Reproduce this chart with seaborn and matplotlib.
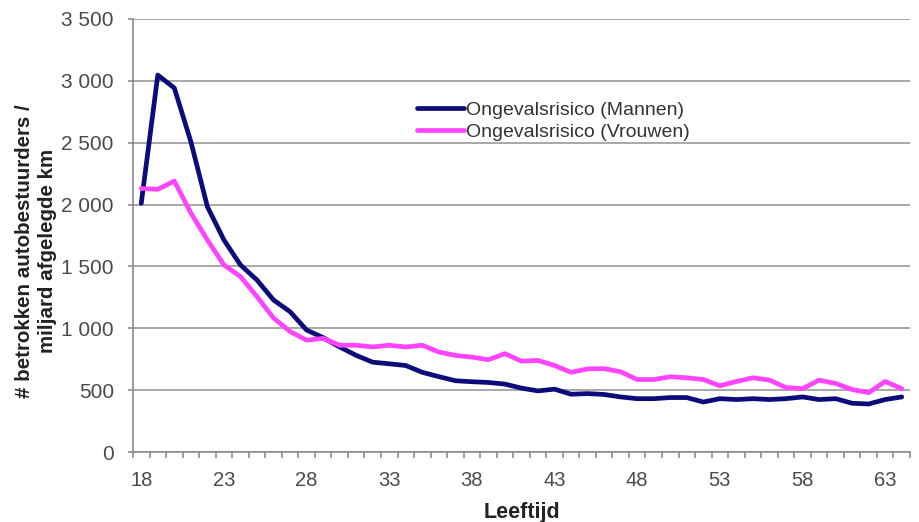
import matplotlib
matplotlib.use("Agg")
import matplotlib.pyplot as plt
import matplotlib.ticker as mticker
import seaborn as sns
import pandas as pd
import numpy as np

ages = list(range(18, 65))
mannen = [2010, 3047, 2942, 2508, 1983, 1714, 1512, 1390, 1229, 1134,
          986, 925, 849, 781, 726, 713, 699, 644, 609, 576,
          568, 562, 549, 516, 494, 508, 467, 472, 465, 445,
          431, 431, 440, 440, 404, 431, 424, 431, 424, 431,
          445, 424, 431, 394, 388, 424, 445]
vrouwen = [2130, 2123, 2190, 1932, 1714, 1512, 1418, 1256, 1083, 974,
           904, 918, 863, 863, 849, 863, 849, 863, 808, 781,
           767, 746, 795, 734, 740, 699, 644, 672, 674, 648,
           586, 586, 608, 600, 586, 535, 570, 600, 581, 521,
           512, 581, 554, 505, 480, 570, 512]
series_names = ["Ongevalsrisico (Mannen)", "Ongevalsrisico (Vrouwen)"]
colors = ["#0b0b7a", "#ff44ff"]
y_ticks = [0, 500, 1000, 1500, 2000, 2500, 3000, 3500]
x_label_ticks = list(range(18, 64, 5))

df = pd.DataFrame({
    "Leeftijd": ages * 2,
    "waarde": mannen + vrouwen,
    "serie": [series_names[0]] * len(ages) + [series_names[1]] * len(ages),
})

sns.set_theme(style="white")
plt.rcParams["font.family"] = ["Liberation Sans", "DejaVu Sans"]

fig = plt.figure(figsize=(9.2, 5.22), dpi=100)
ax = fig.add_axes([133 / 920, 1 - 452 / 522, (910 - 133) / 920, (452 - 19) / 522])

sns.lineplot(data=df, x="Leeftijd", y="waarde", hue="serie",
             palette=colors, linewidth=3.4, ax=ax, legend=True)

ax.set_xlim(17.5, 64.5)
ax.set_ylim(0, 3500)
ax.set_yticks(y_ticks)
ax.yaxis.set_major_formatter(mticker.FuncFormatter(lambda v, p: f"{int(v):,}".replace(",", " ")))
ax.set_xticks(x_label_ticks)
ax.set_xticks(np.arange(17.5, 65, 1.0), minor=True)

ax.grid(axis="y", color="#9a9a9a", linewidth=1.2)
ax.set_axisbelow(True)
for s in ["top", "right"]:
    ax.spines[s].set_visible(False)
for s in ["left", "bottom"]:
    ax.spines[s].set_visible(True)
    ax.spines[s].set_color("#8c8c8c")
    ax.spines[s].set_linewidth(1.2)

ax.tick_params(axis="y", which="major", direction="out", length=3.8, width=1.2,
               color="#8c8c8c", labelsize=15, labelcolor="#4a4a4a", pad=10, left=True)
ax.tick_params(axis="x", which="major", length=0, labelsize=14.5,
               labelcolor="#4a4a4a", pad=14, bottom=True)
ax.tick_params(axis="x", which="minor", direction="out", length=4.3, width=1.2,
               color="#8c8c8c", bottom=True)

ax.set_xlabel("Leeftijd", fontsize=15.5, fontweight="bold", color="#222222")
ax.xaxis.set_label_coords(0.5, -0.115)
ax.set_ylabel("# betrokken autobestuurders /\nmiljard afgelegde km", fontsize=14.8,
              fontweight="bold", color="#222222", linespacing=1.25)
ax.yaxis.set_label_coords(-0.098, 0.464)

handles, labels = ax.get_legend_handles_labels()
ax.legend(handles, labels, loc="upper left", bbox_to_anchor=(417 / 920, 1 - 101 / 522),
          bbox_transform=fig.transFigure, frameon=False, fontsize=14.0,
          handlelength=2.4, handletextpad=0.1, labelspacing=0.26,
          borderpad=0, borderaxespad=0, labelcolor="#333333")

fig.savefig("out.png", dpi=100, facecolor="white")
